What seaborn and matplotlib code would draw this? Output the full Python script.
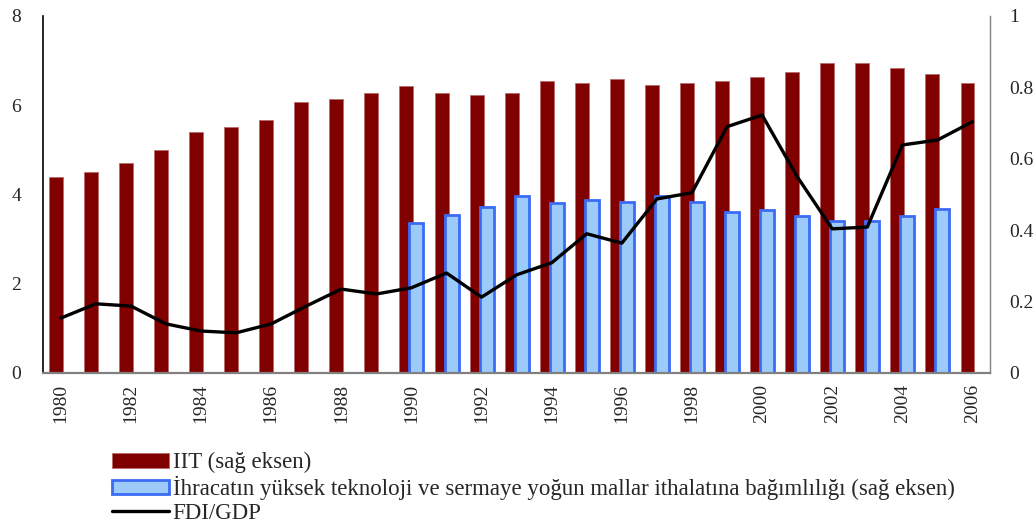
import matplotlib
matplotlib.use("Agg")
import matplotlib.pyplot as plt
from matplotlib.patches import Patch
from matplotlib.lines import Line2D
import seaborn as sns
import pandas as pd

sns.set_theme(style="white")
plt.rcParams['font.family'] = ['Liberation Serif', 'DejaVu Serif']

years = list(range(1980, 2007))

# IIT (right axis)
iit = [0.548, 0.563, 0.588, 0.625, 0.675, 0.689, 0.709, 0.759, 0.768, 0.784,
       0.804, 0.784, 0.778, 0.784, 0.818, 0.812, 0.824, 0.807, 0.812, 0.818,
       0.829, 0.843, 0.868, 0.868, 0.854, 0.838, 0.812]

# dependence on high-tech imports (right axis), 1990-2005
dep_years = list(range(1990, 2006))
dep = [0.421, 0.443, 0.465, 0.497, 0.476, 0.485, 0.479, 0.496,
       0.479, 0.451, 0.457, 0.440, 0.426, 0.426, 0.440, 0.459]

# FDI/GDP (left axis)
fdi = [1.23, 1.55, 1.50, 1.10, 0.94, 0.90, 1.10, 1.50, 1.88, 1.77,
       1.91, 2.24, 1.70, 2.20, 2.47, 3.12, 2.91, 3.90, 4.04, 5.52,
       5.78, 4.40, 3.23, 3.27, 5.11, 5.22, 5.63]

lab_iit = "IIT (sağ eksen)"
lab_dep = "İhracatın yüksek teknoloji ve sermaye yoğun mallar ithalatına bağımlılığı (sağ eksen)"
lab_fdi = "FDI/GDP"

red = '#800000'
red_edge = '#b86a6a'
blue = '#9ccbfa'
blue_edge = '#3a6cf6'

bars = pd.concat([
    pd.DataFrame({'year': years, 'value': iit, 'series': lab_iit}),
    pd.DataFrame({'year': dep_years, 'value': dep, 'series': lab_dep}),
])
line = pd.DataFrame({'year': years, 'value': fdi})

fig = plt.figure(figsize=(10.33, 5.26), dpi=100)
ax = fig.add_axes([0.0419, 0.2909, 0.9165, 0.6787])

sns.barplot(data=bars, x='year', y='value', hue='series',
            hue_order=[lab_iit, lab_dep], native_scale=True,
            palette=[red, blue], width=0.57, gap=-0.4,
            saturation=1, ax=ax, legend=False)
for p in ax.containers[0]:
    p.set_edgecolor(red_edge)
    p.set_linewidth(0.6)
for p in ax.containers[1]:
    p.set_edgecolor(blue_edge)
    p.set_linewidth(2.0)

ax2 = ax.twinx()
sns.lineplot(data=line, x='year', y='value', color='black', linewidth=2.4,
             ax=ax2, legend=False)

ax.set_xlim(1979.5, 2006.5)
ax.set_ylim(0, 1)
ax2.set_ylim(0, 8)
ax.set_xticks(range(1980, 2007, 2))
ax.set_xticklabels([str(y) for y in range(1980, 2007, 2)], rotation=90)
ax.set_yticks([0, 0.2, 0.4, 0.6, 0.8, 1])
ax.set_yticklabels(['0', '0.2', '0.4', '0.6', '0.8', '1'])
ax2.set_yticks([0, 2, 4, 6, 8])
ax.yaxis.tick_right()
ax2.yaxis.tick_left()
ax.set_xlabel('')
ax.set_ylabel('')
ax2.set_ylabel('')

ax.tick_params(axis='x', length=0, pad=8, labelsize=14)
ax.tick_params(axis='y', length=0, pad=14, labelsize=14, right=True, left=False,
               labelright=True, labelleft=False)
ax2.tick_params(axis='y', length=0, pad=16, labelsize=14, left=True, right=False,
                labelleft=True, labelright=False)

for s in ax.spines.values():
    s.set_visible(False)
ax2.spines['top'].set_visible(False)
ax2.spines['left'].set_color('black')
ax2.spines['left'].set_linewidth(1.2)
ax2.spines['right'].set_color('#808080')
ax2.spines['right'].set_linewidth(1.0)
ax2.spines['bottom'].set_color('#808080')
ax2.spines['bottom'].set_linewidth(1.6)

handles = [
    Patch(facecolor=red, edgecolor=red_edge, linewidth=0.6),
    Patch(facecolor=blue, edgecolor=blue_edge, linewidth=2.0),
    Line2D([], [], color='black', linewidth=2.4),
]
fig.legend(handles, [lab_iit, lab_dep, lab_fdi], loc='upper left',
           bbox_to_anchor=(112 / 1033, 1 - 452 / 526),
           frameon=False, fontsize=16.5, handlelength=2.5, handleheight=0.62,
           handletextpad=0.15, labelspacing=0.12, borderpad=0, borderaxespad=0)

fig.savefig('out.png', dpi=100)
